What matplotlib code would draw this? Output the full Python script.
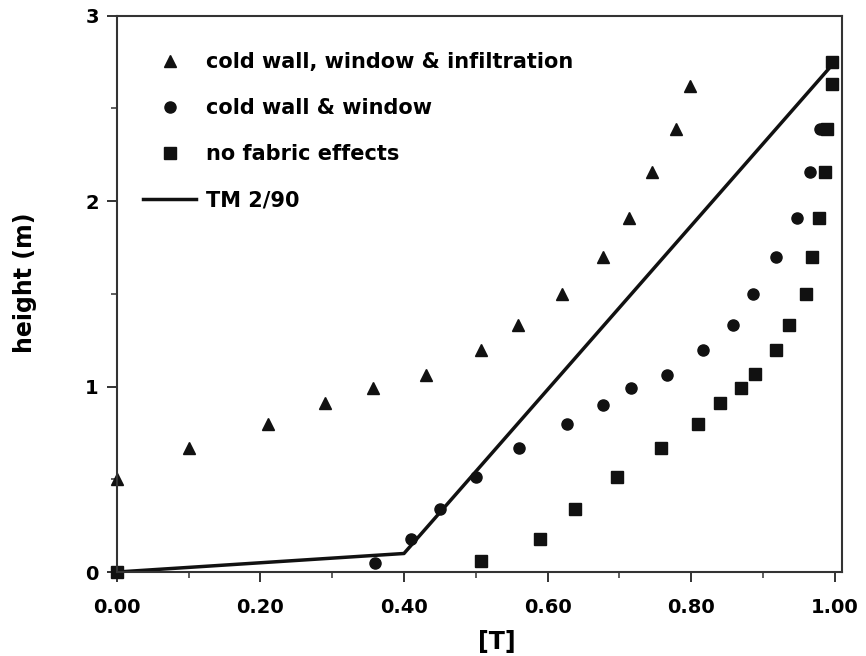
import matplotlib.pyplot as plt
from matplotlib.ticker import MultipleLocator, FormatStrFormatter

# readings taken off the original figure
tri_T = [0.00, 0.10, 0.21, 0.29, 0.357, 0.43, 0.507, 0.559, 0.62, 0.677, 0.714, 0.745, 0.779, 0.798]
tri_h = [0.50, 0.67, 0.80, 0.91, 0.99, 1.06, 1.20, 1.33, 1.50, 1.70, 1.91, 2.16, 2.39, 2.62]

circ_T = [0.00, 0.36, 0.41, 0.45, 0.50, 0.56, 0.627, 0.677, 0.716, 0.767, 0.816, 0.858, 0.887, 0.919, 0.947, 0.966, 0.98]
circ_h = [0.00, 0.05, 0.18, 0.34, 0.51, 0.67, 0.80, 0.90, 0.99, 1.06, 1.20, 1.33, 1.50, 1.70, 1.91, 2.16, 2.39]

sq_T = [0.00, 0.508, 0.59, 0.638, 0.697, 0.758, 0.809, 0.84, 0.870, 0.889, 0.919, 0.937, 0.96, 0.968, 0.978, 0.987, 0.99, 0.996, 0.997]
sq_h = [0.00, 0.06, 0.18, 0.34, 0.51, 0.67, 0.80, 0.91, 0.99, 1.07, 1.20, 1.33, 1.50, 1.70, 1.91, 2.16, 2.39, 2.63, 2.75]

tm_T = [0.0, 0.40, 1.0]
tm_h = [0.0, 0.10, 2.75]

plt.rcParams['font.family'] = ['DejaVu Sans']

fig = plt.figure(figsize=(8.66, 6.56), dpi=100)
ax = fig.add_axes([0.135, 0.128, 0.837, 0.848])

ink = "#111111"
ax.plot(tri_T, tri_h, linestyle="", marker="^", markersize=9, color=ink, clip_on=False,
        label="cold wall, window & infiltration")
ax.plot(circ_T, circ_h, linestyle="", marker="o", markersize=8, color=ink, clip_on=False,
        label="cold wall & window")
ax.plot(sq_T, sq_h, linestyle="", marker="s", markersize=8, color=ink, clip_on=False,
        label="no fabric effects")
ax.plot(tm_T, tm_h, linestyle="-", linewidth=2.5, color=ink, label="TM 2/90")

ax.set_xlim(0, 1.01)
ax.set_ylim(0, 3)
ax.xaxis.set_major_locator(MultipleLocator(0.2))
ax.xaxis.set_minor_locator(MultipleLocator(0.1))
ax.xaxis.set_major_formatter(FormatStrFormatter("%.2f"))
ax.yaxis.set_major_locator(MultipleLocator(1))
ax.yaxis.set_minor_locator(MultipleLocator(0.5))
ax.tick_params(which="major", direction="out", length=7, width=1.4, color="#333333", labelsize=14)
ax.tick_params(axis="x", which="major", pad=12)
ax.tick_params(axis="y", which="major", pad=6)
ax.tick_params(which="minor", direction="out", length=4, width=1.1, color="#333333")
for lab in ax.get_xticklabels() + ax.get_yticklabels():
    lab.set_fontweight("bold")
for s in ax.spines.values():
    s.set_linewidth(1.5)
    s.set_color("#333333")

ax.set_xlabel("[T]", fontsize=17, fontweight="bold")
ax.xaxis.set_label_coords(0.524, -0.126)
ax.xaxis.label.set_va("center")
ax.set_ylabel("height (m)", fontsize=17, fontweight="bold")
ax.yaxis.set_label_coords(-0.127, 0.52)
ax.yaxis.label.set_va("center")

ax.legend(loc="upper left", bbox_to_anchor=(0.036, 0.935), frameon=False,
          borderaxespad=0, borderpad=0, labelspacing=1.25, handlelength=2.55,
          handletextpad=0.48, prop={"weight": "bold", "size": 15})

plt.savefig("out.png", dpi=100)
